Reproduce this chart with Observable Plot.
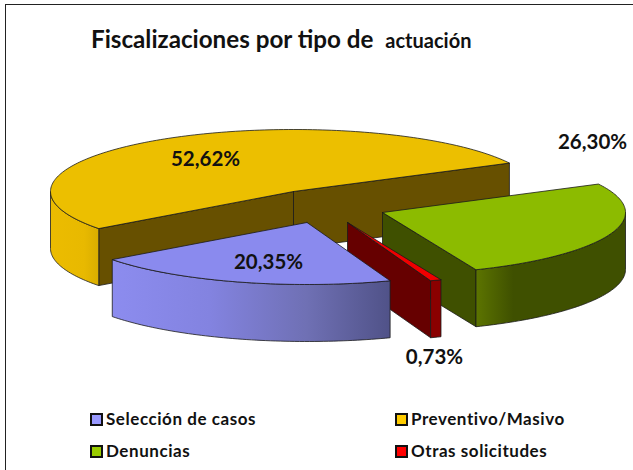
<!DOCTYPE html>
<html lang="es">
<head>
<meta charset="utf-8">
<script src="https://cdn.jsdelivr.net/npm/d3@7"></script>
<script src="https://cdn.jsdelivr.net/npm/@observablehq/plot@0.6"></script>
<style>
  html, body { margin: 0; padding: 0; background: #fff; }
  #page { position: relative; width: 633px; height: 470px; overflow: hidden; font-family: Lato, sans-serif; color: #111; box-sizing: border-box; border-left: 1px solid #222; border-top: 1px solid #222; left: 5px; top: 4px; }
  #title { position: absolute; left: 85px; top: 19px; font-weight: 700; font-size: 24.2px; line-height: 30px; white-space: nowrap; }
  #title small { font-size: 20px; margin-left: 6px; }
  #chart { position: absolute; left: -6px; top: 66px; }
  #legend { position: absolute; left: 0; top: 0; width: 633px; }
  .item { position: absolute; display: flex; align-items: center; font-size: 17px; font-weight: 700; letter-spacing: .55px; white-space: nowrap; line-height: 20px; }
  .sw { display: inline-block; width: 9px; height: 9px; border: 2px solid #111; margin-right: 3px; }
</style>
</head>
<body>
<div id="page">
  <div id="title">Fiscalizaciones por tipo de <small>actuación</small></div>
  <div id="chart"></div>
  <div id="legend"></div>
</div>
<script>
// ---- data ----
const categories = ["Selección de casos", "Preventivo/Masivo", "Denuncias", "Otras solicitudes"];
const shares = [20.35, 52.62, 26.30, 0.73];
const shareLabels = ["20,35%", "52,62%", "26,30%", "0,73%"];
const legendColors = ["#9999ff", "#ffcc00", "#99cc00", "#ff0000"];

// ---- styling per slice ----
const topColors = ["#8a8aee", "#ecbf00", "#8cbb00", "#f00000"];
const wallColors = ["#5a5b9c", "#675000", "#3f5000", "#660000"];
const sideFills = ["url(#sidePurple)", "url(#sideYellow)", "url(#sideGreen)", "#8a0000"];

// ---- 3-D layout of the exploded pie, in page pixels ----
const firstSliceAngle = 160;            // degrees clockwise from north
const rx = 243, ry = 62, depth = 57;
const apexX = [306.5, 293, 382, 347];
const apexY = [221, 190, 211, 221];
const labelX = [268, 205, 592, 434];
const labelY = [261, 158, 141, 356];
const chartTop = 70, chartHeight = 340, W = 633;

const pie = d3.pie().sort(null)
  .startAngle(firstSliceAngle * Math.PI / 180)
  .endAngle((firstSliceAngle + 360) * Math.PI / 180);
const arcs = pie(shares);

const at = (i, a, drop = 0) => ({
  x: apexX[i] + rx * Math.sin(a),
  y: apexY[i] - ry * Math.cos(a) + drop
});
const sweep = (i, a0, a1, drop = 0) => {
  const n = Math.max(1, Math.ceil(Math.abs(a1 - a0) / 0.02));
  return d3.range(n + 1).map(k => at(i, a0 + (a1 - a0) * k / n, drop));
};
const close = pts => [...pts, pts[0]];

const faces = [];
const drawOrder = [1, 2, 3, 0];   // back to front, as stacked in the picture
for (const i of drawOrder) {
  const {startAngle: a0, endAngle: a1} = arcs[i];
  const apex = {x: apexX[i], y: apexY[i]};
  const apexLow = {x: apexX[i], y: apexY[i] + depth};
  // radial cut faces that look toward the viewer
  if (Math.sin(a0) < 0) faces.push({pts: close([apex, at(i, a0), at(i, a0, depth), apexLow]), fill: wallColors[i]});
  if (Math.sin(a1) > 0) faces.push({pts: close([apex, at(i, a1), at(i, a1, depth), apexLow]), fill: wallColors[i]});
  // rim: only the front half of the ellipse is visible (angles may run past one full turn)
  for (const turn of [0, 2 * Math.PI]) {
    const s = Math.max(a0, Math.PI / 2 + turn), e = Math.min(a1, 3 * Math.PI / 2 + turn);
    if (e > s) faces.push({pts: close([...sweep(i, s, e), ...sweep(i, e, s, depth)]), fill: sideFills[i]});
  }
  // top surface
  faces.push({pts: close([apex, ...sweep(i, a0, a1)]), fill: topColors[i]});
}

const stopsOf = {
  sidePurple: [[0, "#8c8cef"], [0.35, "#8383e0"], [0.7, "#6f70b4"], [1, "#505288"]],
  sideYellow: [[0, "#ecbc00"], [0.7, "#e8b900"], [1, "#d9ad00"]],
  sideGreen: [[0, "#5c7400"], [0.25, "#3f5000"], [1, "#3f5000"]]
};
const gradients = () => {
  const defs = d3.create("svg:defs");
  for (const [id, stops] of Object.entries(stopsOf)) {
    const g = defs.append("linearGradient").attr("id", id);
    for (const [o, c] of stops) g.append("stop").attr("offset", o).attr("stop-color", c);
  }
  return defs.node();
};

const labels = shareLabels.map((t, i) => ({t, x: labelX[i], y: labelY[i]}));

const plot = Plot.plot({
  width: W, height: chartHeight,
  margin: 0,
  x: {domain: [0, W], range: [0, W], axis: null},
  y: {domain: [chartTop, chartTop + chartHeight], range: [0, chartHeight], axis: null},
  style: {background: "transparent", overflow: "visible"},
  marks: [
    gradients,
    ...faces.map(f => Plot.line(f.pts, {x: "x", y: "y", fill: f.fill, stroke: "#1a1a1a", strokeWidth: 0.8, strokeLinejoin: "round", curve: "linear"})),
    Plot.text(labels, {x: "x", y: "y", text: "t", fontFamily: "Lato, sans-serif", fontWeight: 700, fontSize: 20.5, fill: "#111", textAnchor: "middle"})
  ]
});
document.getElementById("chart").appendChild(plot);

// ---- legend ----
const legend = document.getElementById("legend");
const legendPos = [[84, 404], [389, 404], [84, 436], [389, 436]];
categories.forEach((c, i) => {
  const d = document.createElement("div");
  d.className = "item";
  d.style.left = legendPos[i][0] + "px";
  d.style.top = legendPos[i][1] + "px";
  const sw = document.createElement("span");
  sw.className = "sw";
  sw.style.background = legendColors[i];
  d.append(sw, c);
  legend.appendChild(d);
});
</script>
</body>
</html>
